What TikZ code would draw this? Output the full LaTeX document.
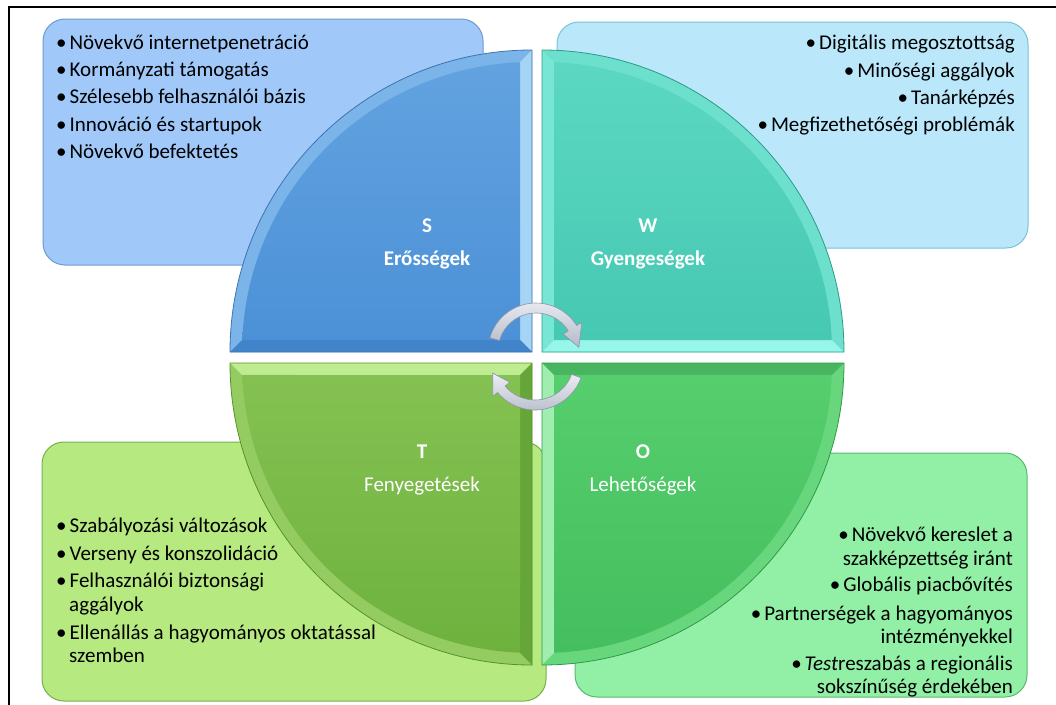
\documentclass[tikz,border=0pt]{standalone}
\usepackage{fontspec}
\setmainfont{Carlito}
\definecolor{sBox}{RGB}{160,200,248}
\definecolor{sBoxD}{RGB}{110,155,210}
\definecolor{wBox}{RGB}{186,232,250}
\definecolor{wBoxD}{RGB}{120,195,215}
\definecolor{tBox}{RGB}{182,233,128}
\definecolor{tBoxD}{RGB}{120,175,80}
\definecolor{oBox}{RGB}{146,240,166}
\definecolor{oBoxD}{RGB}{90,185,110}
\definecolor{sBand}{RGB}{122,180,232}
\definecolor{sHi}{RGB}{165,212,245}
\definecolor{sLo}{RGB}{66,132,202}
\definecolor{sTop}{RGB}{98,162,224}
\definecolor{sBot}{RGB}{76,145,215}
\definecolor{sLine}{RGB}{65,115,175}
\definecolor{wBand}{RGB}{108,224,204}
\definecolor{wHi}{RGB}{150,246,234}
\definecolor{wMid}{RGB}{120,230,212}
\definecolor{wTop}{RGB}{92,216,194}
\definecolor{wBot}{RGB}{70,200,178}
\definecolor{wLine}{RGB}{45,155,135}
\definecolor{tBand}{RGB}{148,204,98}
\definecolor{tHi}{RGB}{192,236,145}
\definecolor{tLo}{RGB}{102,166,56}
\definecolor{tTop}{RGB}{132,193,82}
\definecolor{tBot}{RGB}{110,178,62}
\definecolor{tLine}{RGB}{85,145,45}
\definecolor{oBand}{RGB}{104,214,124}
\definecolor{oHi}{RGB}{160,238,175}
\definecolor{oLo}{RGB}{72,182,96}
\definecolor{oTop}{RGB}{86,206,110}
\definecolor{oBot}{RGB}{68,190,94}
\definecolor{oLine}{RGB}{45,155,70}
\definecolor{arrL}{RGB}{236,238,244}
\definecolor{arrD}{RGB}{180,186,200}
\definecolor{arrE}{RGB}{140,148,165}
\newcommand\quadpath[6]{% cx, cy, start angle, radius, inset, style
  \pgfmathsetmacro\qA{#3+asin(#5/(#4-#5))}%
  \pgfmathsetmacro\qB{#3+90-asin(#5/(#4-#5))}%
  \pgfmathsetmacro\qR{#4-#5}%
  \pgfmathsetmacro\qC{#3+45}%
  \pgfmathsetmacro\qD{#5*1.41421}%
  \path[#6] ([shift={(#1,#2)}]\qC:\qD)
    -- ([shift={(#1,#2)}]\qA:\qR)
    arc[start angle=\qA, end angle=\qB, radius=\qR]
    -- cycle;}
\begin{document}
\begin{tikzpicture}[x=1pt,y=-1pt,
  txtbox/.style={draw=#1D, line width=1pt, fill=#1, rounded corners=22pt, inner sep=0pt},
  qlabel/.style={text=white, font=\fontsize{21}{25}\selectfont, inner sep=0pt, text height=14pt, text depth=5pt},
  qbold/.style={qlabel, font=\fontsize{21}{25}\selectfont\bfseries},
  item/.style={font=\fontsize{21}{25}\selectfont, inner sep=0pt, text=black, text height=14pt, text depth=5pt},
  arrowshape/.style={draw=arrE, line width=0.6pt, top color=arrL, bottom color=arrD}
]
\useasboundingbox (0,0) rectangle (1056,704);
\fill[white] (0,0) rectangle (1056,704);
% outer frame
\draw[line width=2pt, black] (9,7) rectangle (1070,720);

% text boxes
\node[txtbox=sBox, minimum width=440pt, minimum height=246pt] (sbox) at (263,142) {};
\node[txtbox=wBox, minimum width=471pt, minimum height=226pt] (wbox) at (792.5,135) {};
\node[txtbox=tBox, minimum width=504pt, minimum height=259pt] (tbox) at (294,571.5) {};
\node[txtbox=oBox, minimum width=452pt, minimum height=244pt] (obox) at (801,575) {};

% quadrant S
\quadpath{532}{352}{180}{302}{0}{fill=sBand}
\fill[sHi] (532,50) -- (532,352) -- (520,340) -- (520,62.25) -- cycle;
\fill[sLo] (230,352) -- (532,352) -- (520,340) -- (242.25,340) -- cycle;
\quadpath{532}{352}{180}{302}{12}{top color=sTop, bottom color=sBot}
\quadpath{532}{352}{180}{302}{0}{draw=sLine, line width=0.8pt}
% quadrant W
\quadpath{542}{352}{270}{302}{0}{fill=wBand}
\fill[wMid] (542,50) -- (542,352) -- (554,340) -- (554,62.25) -- cycle;
\fill[wHi] (844,352) -- (542,352) -- (554,340) -- (831.75,340) -- cycle;
\quadpath{542}{352}{270}{302}{12}{top color=wTop, bottom color=wBot}
\quadpath{542}{352}{270}{302}{0}{draw=wLine, line width=0.8pt}
% quadrant T
\quadpath{532}{363}{90}{302}{0}{fill=tBand}
\fill[tHi] (230,363) -- (532,363) -- (520,375) -- (242.25,375) -- cycle;
\fill[tLo] (532,665) -- (532,363) -- (520,375) -- (520,652.75) -- cycle;
\quadpath{532}{363}{90}{302}{12}{top color=tTop, bottom color=tBot}
\quadpath{532}{363}{90}{302}{0}{draw=tLine, line width=0.8pt}
% quadrant O
\quadpath{542}{363}{0}{302}{0}{fill=oBand}
\fill[oHi] (542,665) -- (542,363) -- (554,375) -- (554,652.75) -- cycle;
\fill[oLo] (844,363) -- (542,363) -- (554,375) -- (831.75,375) -- cycle;
\quadpath{542}{363}{0}{302}{12}{top color=oTop, bottom color=oBot}
\quadpath{542}{363}{0}{302}{0}{draw=oLine, line width=0.8pt}

% quadrant labels
\node[qbold] (sL) at (427,228) {S};
\node[qbold] (sN) at (427,261) {Erősségek};
\node[qbold] (wL) at (648,228) {W};
\node[qbold] (wN) at (648,261) {Gyengeségek};
\node[qbold] (tL) at (422,454) {T};
\node[qlabel] (tN) at (422,487) {Fenyegetések};
\node[qbold] (oL) at (643,454) {O};
\node[qlabel] (oN) at (643,487) {Lehetőségek};

% S items
\node[item, anchor=west] (s1) at (56,45) {•\hspace{3pt}Növekvő internetpenetráció};
\node[item, anchor=west] (s2) at (56,72) {•\hspace{3pt}Kormányzati támogatás};
\node[item, anchor=west] (s3) at (56,99) {•\hspace{3pt}Szélesebb felhasználói bázis};
\node[item, anchor=west] (s4) at (56,127) {•\hspace{3pt}Innováció és startupok};
\node[item, anchor=west] (s5) at (56,154) {•\hspace{3pt}Növekvő befektetés};

% W items
\node[item, anchor=east] (w1) at (1015,45) {•\hspace{3pt}Digitális megosztottság};
\node[item, anchor=east] (w2) at (1015,73) {•\hspace{3pt}Minőségi aggályok};
\node[item, anchor=east] (w3) at (1015,100) {•\hspace{3pt}Tanárképzés};
\node[item, anchor=east] (w4) at (1015,127) {•\hspace{3pt}Megfizethetőségi problémák};

% T items
\node[item, anchor=west] (t1) at (56,528) {•\hspace{3pt}Szabályozási változások};
\node[item, anchor=west] (t2) at (56,556) {•\hspace{3pt}Verseny és konszolidáció};
\node[item, anchor=west] (t3) at (56,583) {•\hspace{3pt}Felhasználói biztonsági};
\node[item, anchor=west] (t3b) at (69,607) {aggályok};
\node[item, anchor=west] (t4) at (56,635) {•\hspace{3pt}Ellenállás a hagyományos oktatással};
\node[item, anchor=west] (t4b) at (69,658) {szemben};

% O items
\node[item, anchor=east] (o1) at (1013,537) {•\hspace{3pt}Növekvő kereslet a};
\node[item, anchor=east] (o1b) at (1013,561) {szakképzettség iránt};
\node[item, anchor=east] (o2) at (1013,587) {•\hspace{3pt}Globális piacbővítés};
\node[item, anchor=east] (o3) at (1013,616) {•\hspace{3pt}Partnerségek a hagyományos};
\node[item, anchor=east] (o3b) at (1013,639) {intézményekkel};
\node[item, anchor=east] (o4) at (1013,666) {•\hspace{3pt}\textit{Test}reszabás a regionális};
\node[item, anchor=east] (o4b) at (1013,689) {sokszínűség érdekében};

% circular arrows
\path[arrowshape]
  ([shift={(536,351)}]196:48) arc[start angle=196, end angle=328, radius=48]
  -- ([shift={(536,351)}]328:54) -- ([shift={(536,351)}]355:43)
  -- ([shift={(536,351)}]328:32) -- ([shift={(536,351)}]328:38)
  arc[start angle=328, end angle=196, radius=38] -- cycle;
\path[arrowshape]
  ([shift={(535,361)}]20:49) arc[start angle=20, end angle=140, radius=49]
  -- ([shift={(535,361)}]140:55) -- ([shift={(535,361)}]164:44)
  -- ([shift={(535,361)}]140:33) -- ([shift={(535,361)}]140:39)
  arc[start angle=140, end angle=20, radius=39] -- cycle;
\end{tikzpicture}
\end{document}
